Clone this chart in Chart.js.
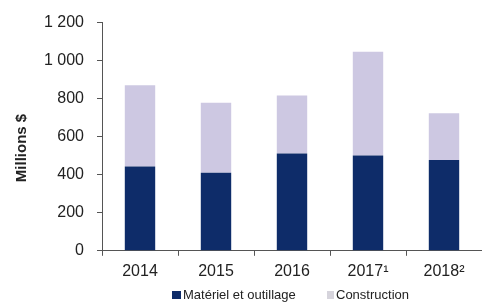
<!DOCTYPE html>
<html><head><meta charset="utf-8">
<script src="https://cdn.jsdelivr.net/npm/chart.js@4"></script>
<style>html,body{margin:0;padding:0;background:#fff;}#wrap{width:482px;height:305px;position:relative;}</style>
</head><body><div id="wrap"><canvas id="c" width="482" height="305"></canvas></div>
<script>
const categories = ["2014", "2015", "2016", "2017\u00b9", "2018\u00b2"];
const materiel = [443, 410, 511, 501, 478];
const construction = [427, 369, 306, 546, 245];
const seriesNames = ["Matériel et outillage", "Construction"];
const seriesColors = ["#0e2c69", "#cdc8e2"];
const legendMarkerColors = ["#0e2c69", "#d6d4dc"];
const yTicks = [0, 200, 400, 600, 800, 1000, 1200];
const yTitle = "Millions $";

const FONT = "'Liberation Sans', Arial, sans-serif";

const yTitlePlugin = {
  id: 'yTitle',
  afterDraw(chart) {
    const ctx = chart.ctx;
    ctx.save();
    ctx.translate(22, 148);
    ctx.rotate(-Math.PI / 2);
    ctx.font = "bold 15px " + FONT;
    ctx.fillStyle = "#222";
    ctx.textAlign = "center";
    ctx.textBaseline = "middle";
    ctx.fillText(yTitle, 0, 0);
    ctx.restore();
  }
};

const legendPlugin = {
  id: 'customLegend',
  afterDraw(chart) {
    const ctx = chart.ctx;
    ctx.save();
    ctx.font = "13px " + FONT;
    ctx.textBaseline = "middle";
    ctx.textAlign = "left";
    const cy = 295;
    const starts = [172, 327];
    const sizes = [[9, 8], [7, 8]];
    chart.data.datasets.forEach((ds, i) => {
      const x = starts[i];
      ctx.fillStyle = legendMarkerColors[i];
      ctx.fillRect(x, cy - 4, sizes[i][0], sizes[i][1]);
      ctx.fillStyle = "#222";
      ctx.fillText(ds.label, x + sizes[i][0] + 2, cy);
    });
    ctx.restore();
  }
};

new Chart(document.getElementById('c'), {
  type: 'bar',
  data: {
    labels: categories,
    datasets: [
      { label: seriesNames[0], data: materiel, backgroundColor: seriesColors[0], barPercentage: 0.8, categoryPercentage: 0.5 },
      { label: seriesNames[1], data: construction, backgroundColor: seriesColors[1], barPercentage: 0.8, categoryPercentage: 0.5 }
    ]
  },
  options: {
    responsive: false,
    animation: false,
    layout: { padding: { left: 35, right: 0, top: 20, bottom: 18 } },
    plugins: {
      legend: { display: false },
      tooltip: { enabled: false }
    },
    scales: {
      x: {
        stacked: true,
        grid: { display: true, drawOnChartArea: false, drawTicks: true, tickLength: 5, color: '#555', offset: true },
        border: { display: true, color: '#555', width: 1 },
        ticks: { font: { family: FONT, size: 16 }, color: '#222', padding: 6 }
      },
      y: {
        stacked: true,
        min: 0, max: 1200,
        afterBuildTicks(scale) { scale.ticks = yTicks.map(v => ({ value: v })); },
        afterFit(scale) { scale.width = 67; },
        grid: { display: true, drawOnChartArea: false, drawTicks: true, tickLength: 5, color: '#555' },
        border: { display: true, color: '#555', width: 1 },
        ticks: {
          font: { family: FONT, size: 16 }, color: '#222', padding: 13,
          callback: v => String(v).replace(/\B(?=(\d{3})+(?!\d))/g, ' ')
        }
      }
    }
  },
  plugins: [yTitlePlugin, legendPlugin]
});
</script></body></html>
